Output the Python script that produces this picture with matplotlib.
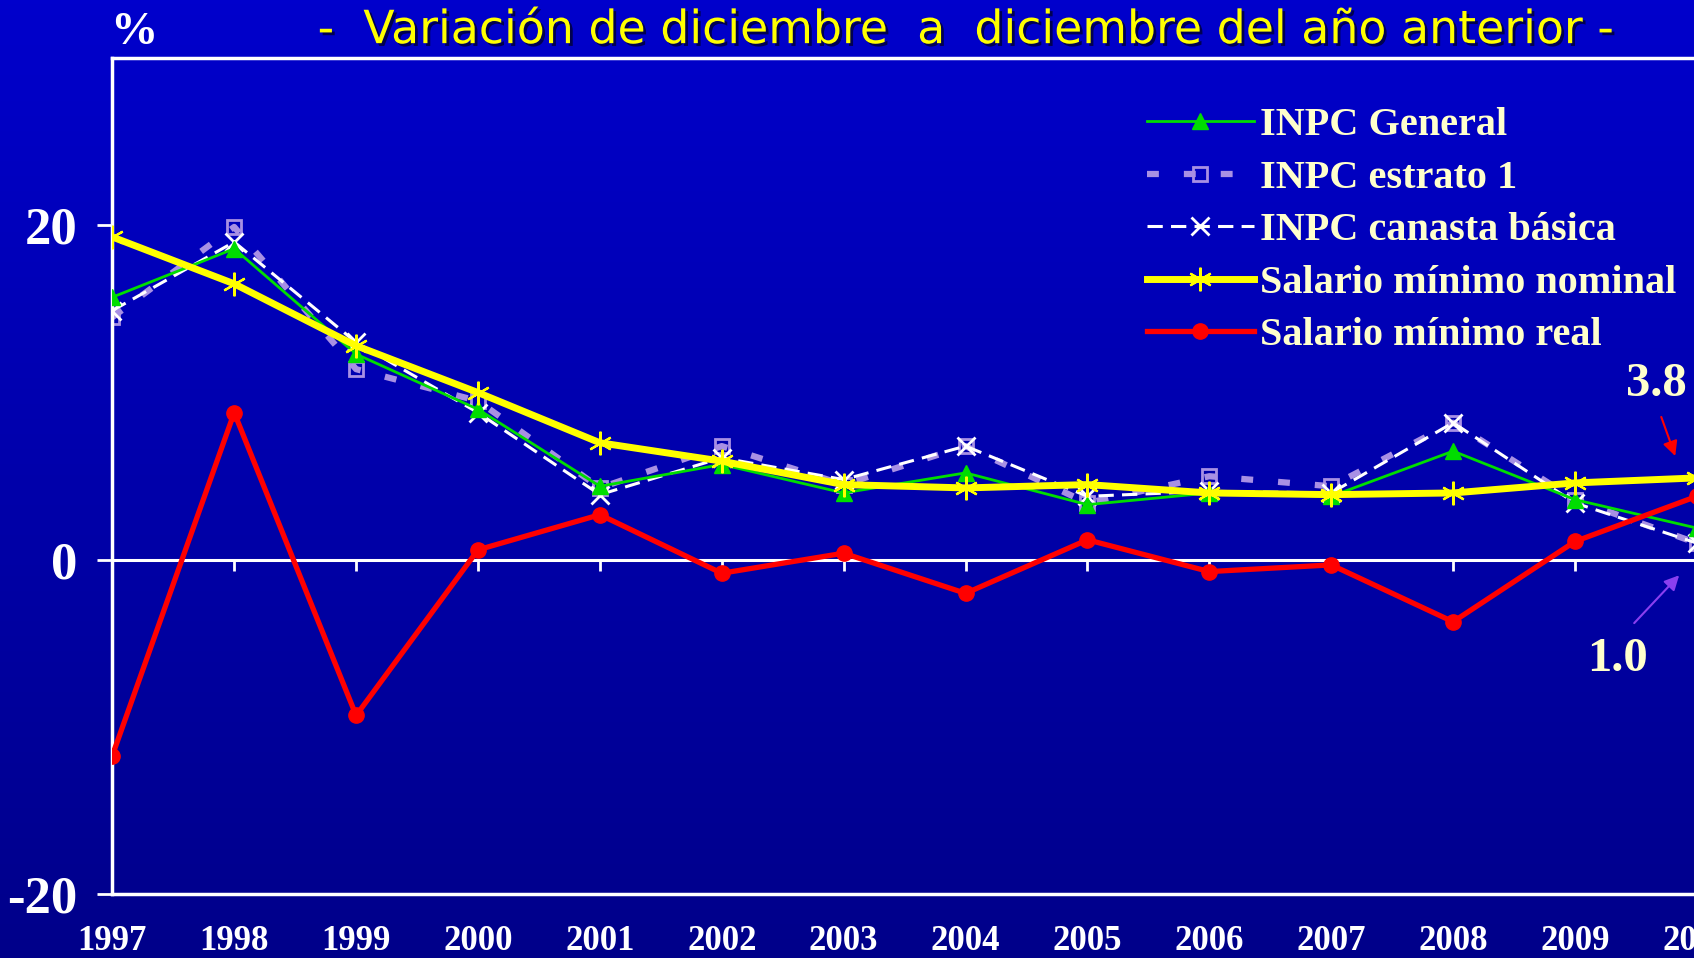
import numpy as np
import matplotlib.pyplot as plt
import matplotlib.patheffects as pe

years = np.arange(1997, 2011)
inpc_general = [15.7, 18.6, 12.3, 9.0, 4.4, 5.7, 4.0, 5.2, 3.3, 4.0, 3.8, 6.5, 3.6, 1.9]
inpc_estrato1 = [14.5, 19.9, 11.4, 9.5, 4.3, 6.8, 4.5, 6.8, 3.4, 5.0, 4.4, 8.2, 3.6, 1.0]
inpc_canasta = [14.9, 19.0, 13.0, 8.8, 3.9, 6.1, 4.8, 6.8, 3.8, 4.1, 4.0, 8.2, 3.4, 1.0]
sal_nominal = [19.3, 16.5, 12.8, 10.0, 7.0, 5.9, 4.5, 4.3, 4.5, 4.0, 3.9, 4.0, 4.6, 4.9]
sal_real = [-11.7, 8.8, -9.3, 0.6, 2.7, -0.8, 0.4, -2.0, 1.2, -0.7, -0.3, -3.7, 1.1, 3.8]

CREAM = '#FFFFCC'
serif = 'Liberation Serif'
plt.rcParams['axes.unicode_minus'] = False

fig = plt.figure(figsize=(16.94, 9.58), dpi=100)

# blue gradient background
bg = fig.add_axes([0, 0, 1, 1], zorder=-10)
grad = np.linspace(0.80, 0.54, 256).reshape(-1, 1)
rgb = np.zeros((256, 1, 3))
rgb[:, :, 2] = grad
bg.imshow(rgb, aspect='auto', extent=(0, 1, 0, 1))
bg.axis('off')

ax = fig.add_axes([0.0663, 0.0663, 0.957, 0.8732])
ax.set_facecolor('none')

ax.plot(years, inpc_general, color='#00DD00', lw=2, marker='^', ms=11,
        label='INPC General', zorder=4)
ax.plot(years, inpc_estrato1, color='#A890E4', lw=4.5, dashes=(1.9, 4.0),
        marker='s', ms=10, mfc='none', mec='#A890E4', mew=2,
        label='INPC estrato 1', zorder=2)
ax.plot(years, inpc_canasta, color='white', lw=2.2, dashes=(5, 2.7),
        marker='x', ms=13, mew=2, label='INPC canasta básica', zorder=3)
ax.plot(years, sal_nominal, color='#FFFF00', lw=5, marker=(6, 2, 0), ms=17,
        mew=1.6, label='Salario mínimo nominal', zorder=5)
ax.plot(years, sal_real, color='#FF0000', lw=3.8, marker='o', ms=11,
        label='Salario mínimo real', zorder=6)

ax.set_xlim(1997, 2010.3)
ax.set_ylim(-20, 30)

for side in ['left', 'top', 'bottom']:
    ax.spines[side].set_color('white')
    ax.spines[side].set_linewidth(2.5)
ax.spines['right'].set_visible(False)

ax.set_yticks([-20, 0, 20])
ax.tick_params(axis='y', colors='white', length=11, width=2, pad=14,
               labelsize=38)
ax.set_xticks(years)
ax.tick_params(axis='x', colors='white', length=0, pad=22, labelsize=25)
for lab in ax.get_xticklabels() + ax.get_yticklabels():
    lab.set_fontfamily(serif)
    lab.set_fontweight('bold')

# zero line with its own tick marks
zero_ax = ax.secondary_xaxis(0.4)
zero_ax.set_xticks(years)
zero_ax.tick_params(colors='white', length=8, width=2, labelbottom=False,
                    labeltop=False)
zero_ax.spines['bottom'].set_color('white')
zero_ax.spines['bottom'].set_linewidth(2.2)
zero_ax.spines['top'].set_visible(False)

leg = ax.legend(loc='upper left', bbox_to_anchor=(1147 / 1694, 0.888),
                bbox_transform=fig.transFigure, frameon=False,
                borderpad=0, borderaxespad=0, handlelength=2.65,
                handletextpad=0.15, labelspacing=0.38,
                prop={'family': serif, 'weight': 'bold', 'size': 29})
for t in leg.get_texts():
    t.set_color(CREAM)

# value call-outs for the last year
ax.annotate('', xy=(2009.83, 6.05), xytext=(2009.70, 8.7),
            arrowprops=dict(arrowstyle='-|>', color='#FF0000', lw=1.5,
                            mutation_scale=22))
ax.text(2009.67, 10.5, '3.8', color=CREAM, fontsize=35, fontweight='bold',
        family=serif, ha='center', va='center')
ax.annotate('', xy=(2009.87, -0.8), xytext=(2009.47, -3.9),
            arrowprops=dict(arrowstyle='-|>', color='#8A3FF0', lw=1.5,
                            mutation_scale=22))
ax.text(2009.35, -5.9, '1.0', color=CREAM, fontsize=35, fontweight='bold',
        family=serif, ha='center', va='center')

fig.text(0.079, 0.966, '%', color='white', fontsize=34, fontweight='bold',
         family=serif, ha='center', va='center')
fig.text(0.5705, 0.968,
         '-  Variación de diciembre  a  diciembre del año anterior -',
         color='#FFFF00', fontsize=33, family='DejaVu Sans',
         ha='center', va='center',
         path_effects=[pe.withSimplePatchShadow(offset=(2, -2),
                                                shadow_rgbFace='#000033',
                                                alpha=0.8)])

fig.savefig('out.png', dpi=100)
